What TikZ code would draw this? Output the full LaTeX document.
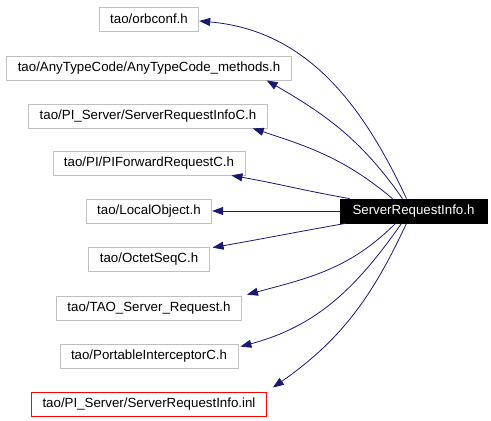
\documentclass[tikz,border=0pt]{standalone}
\usepackage{fontspec}
\setmainfont{Liberation Sans}
\usetikzlibrary{arrows.meta}
\definecolor{edgeblue}{RGB}{25,25,112}
\definecolor{boxgray}{RGB}{191,191,191}
\tikzset{
  hdr/.style={draw=boxgray, line width=0.8pt, minimum height=24pt, inner xsep=11pt,
    font=\fontsize{13.3}{16}\selectfont},
  cur/.style={hdr, draw=black, fill=black, text=white, minimum width=147pt},
  inc/.style={draw=edgeblue, line width=0.8pt, -{Triangle[length=11pt,width=8pt]}}
}
\begin{document}
\begin{tikzpicture}[x=1pt,y=1pt]
  \useasboundingbox (0,0) rectangle (491,-421);

  \node[hdr] (orbconf) at (149,-19) {tao/orbconf.h};
  \node[hdr] (anytc) at (149,-68) {tao/AnyTypeCode/AnyTypeCode\_methods.h};
  \node[hdr] (sriC) at (148,-116) {tao/PI\_Server/ServerRequestInfoC.h};
  \node[hdr] (pifwd) at (149,-163) {tao/PI/PIForwardRequestC.h};
  \node[hdr] (localobj) at (149,-211) {tao/LocalObject.h};
  \node[hdr] (octet) at (149,-259) {tao/OctetSeqC.h};
  \node[hdr] (tsr) at (149,-308) {tao/TAO\_Server\_Request.h};
  \node[hdr] (pic) at (149,-356) {tao/PortableInterceptorC.h};
  \node[hdr, draw=red] (sriinl) at (149,-404) {tao/PI\_Server/ServerRequestInfo.inl};

  \node[cur] (sri) at (413.5,-211) {ServerRequestInfo.h};

  %%%%%%%%%%%%%%%%%%%%%%%%%%%%%%%%%%%%

  \draw[inc] ([xshift=-7pt]sri.north) to[out=115,in=-5] ([yshift=-2pt]orbconf.east);
  \draw[inc] ([xshift=-11pt]sri.north) to[out=125,in=-30] ([xshift=-25pt]anytc.south east);
  \draw[inc] ([xshift=-21pt]sri.north) to[out=140,in=-18] ([xshift=-15pt]sriC.south east);
  \draw[inc] ([xshift=10pt]sri.north west) to[out=170,in=-10] ([xshift=-14pt]pifwd.south east);
  \draw[inc] (sri) -- (localobj);
  \draw[inc] ([xshift=6pt]sri.south west) to[out=190,in=10] ([shift={(3pt,-1pt)}]octet.north east);
  \draw[inc] ([xshift=-18pt]sri.south) to[out=225,in=15] ([shift={(5pt,1pt)}]tsr.north east);
  \draw[inc] ([xshift=-12pt]sri.south) to[out=235,in=15] ([shift={(2pt,-3pt)}]pic.north east);
  \draw[inc] ([xshift=-7pt]sri.south) to[out=245,in=35] ([shift={(6pt,4pt)}]sriinl.north east);

\end{tikzpicture}
\end{document}
